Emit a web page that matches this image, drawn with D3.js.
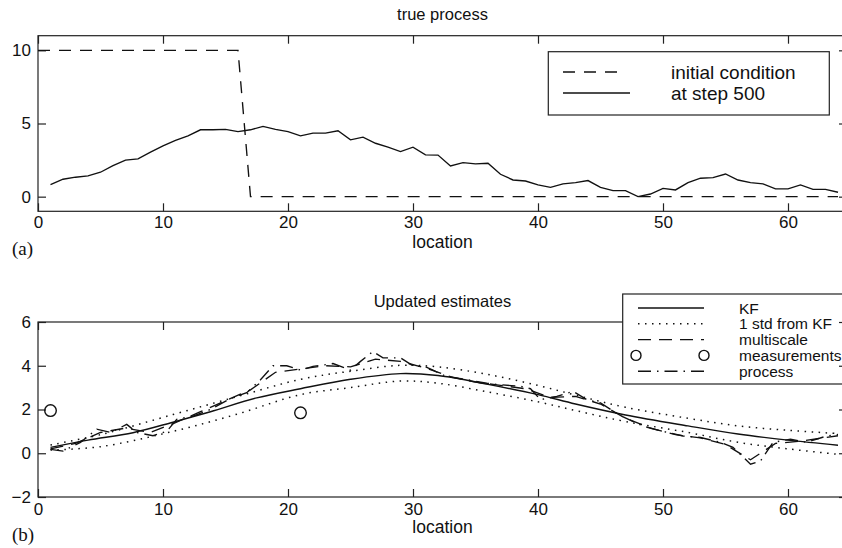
<!DOCTYPE html>
<html>
<head>
<meta charset="utf-8">
<script src="https://cdn.jsdelivr.net/npm/d3@7/dist/d3.min.js"></script>
<style>
  html, body { margin: 0; padding: 0; background: #fff; }
  svg { display: block; }
  text { font-family: "Liberation Sans", Arial, Helvetica, sans-serif; fill: #111; }
</style>
</head>
<body>
<svg id="chart" width="842" height="548"></svg>
<script>
// ---------- (a) true process ----------
const initLoc = [0, 16, 17, 64];
const initVal = [10, 10, 0, 0];

const stepLoc = d3.range(1, 65);
const stepVal = [
  0.82, 1.19, 1.33, 1.42, 1.67, 2.12, 2.50, 2.58, 3.04, 3.47,
  3.84, 4.16, 4.57, 4.57, 4.60, 4.45, 4.57, 4.80, 4.60, 4.45,
  4.16, 4.34, 4.34, 4.50, 3.88, 4.07, 3.65, 3.38, 3.08, 3.38,
  2.86, 2.84, 2.10, 2.33, 2.24, 2.28, 1.53, 1.14, 1.07, 0.80,
  0.64, 0.87, 0.96, 1.10, 0.64, 0.41, 0.41, 0.00, 0.18, 0.57,
  0.46, 0.96, 1.26, 1.30, 1.55, 1.14, 0.96, 0.87, 0.53, 0.53,
  0.80, 0.50, 0.50, 0.30
];

const topXTicks = [0, 10, 20, 30, 40, 50, 60];
const topYTicks = [0, 5, 10];
const topLegend = ["initial condition", "at step 500"];

// ---------- (b) updated estimates ----------
const kfLoc = [1, 4, 7.6, 10.8, 13.8, 17.5, 21, 25, 29, 32, 36, 40, 43, 47, 52, 56, 60, 64];
const kfVal = [0.27, 0.60, 0.94, 1.42, 1.90, 2.53, 2.95, 3.38, 3.64, 3.55, 3.15, 2.68, 2.25, 1.75, 1.25, 0.88, 0.60, 0.37];

const stdLoc   = [1, 5, 10.8, 16, 21, 25, 29, 32, 36, 40, 43.4, 47, 52, 56, 60, 64];
const stdUpper = [0.38, 0.85, 1.77, 2.60, 3.38, 3.75, 4.02, 3.95, 3.60, 3.10, 2.60, 2.10, 1.60, 1.25, 1.05, 0.90];
const stdLower = [0.15, 0.30, 1.00, 1.80, 2.68, 3.00, 3.30, 3.20, 2.80, 2.35, 1.90, 1.45, 0.95, 0.50, 0.20, -0.05];

const msLoc = [1, 3, 5, 7, 9, 11, 13, 15, 17, 19, 21, 23, 25, 27, 29, 31, 33, 35, 37, 39, 41, 43, 45, 47, 49, 51, 53, 55, 57, 59, 61, 64];
const msVal = [0.20, 0.45, 0.95, 1.15, 0.95, 1.40, 1.90, 2.40, 2.90, 3.70, 3.85, 4.00, 3.95, 4.30, 4.20, 3.90, 3.50, 3.25, 3.10, 2.95, 2.55, 2.60, 2.25, 1.60, 1.15, 0.85, 0.70, 0.40, -0.30, 0.45, 0.55, 0.80];

const measLoc = [1, 21];
const measVal = [1.95, 1.85];

const procLoc = [1, 2, 3.4, 4.7, 5.8, 7.1, 7.9, 9.2, 10.3, 11.1, 12.4, 13.8, 15.4, 16.7, 17.8, 18.8, 19.9, 21, 22, 23.6, 25, 25.8, 26.8, 27.6, 29, 30, 31, 31.6, 32.7, 34, 35.9, 37, 38.6, 39.4, 40.2, 41.5, 42.8, 43.9, 45, 46.5, 48.4, 50, 51.6, 53, 54.6, 55.6, 57, 57.8, 58.8, 60.2, 61.5, 63.1, 64];
const procVal = [0.18, 0.10, 0.50, 1.10, 0.95, 1.32, 0.95, 0.80, 1.00, 1.55, 1.70, 2.00, 2.50, 2.77, 3.36, 4.00, 4.00, 3.80, 3.97, 4.10, 3.80, 4.20, 4.65, 4.36, 4.36, 4.00, 3.95, 3.80, 3.50, 3.40, 3.20, 3.13, 3.06, 2.95, 2.45, 2.60, 2.83, 2.45, 2.30, 1.75, 1.24, 1.00, 0.79, 0.72, 0.50, 0.27, -0.50, -0.35, 0.50, 0.64, 0.50, 0.79, 0.86];

const botXTicks = [0, 10, 20, 30, 40, 50, 60];
const botYTicks = [-2, 0, 2, 4, 6];
const botLegend = ["KF", "1 std from KF", "multiscale", "measurements", "process"];

// ---------- drawing ----------
const svg = d3.select("#chart");
const INK = "#111";
const AX = "#222";
const LW = 1.35;
const L = 38, R = 847;

const x = d3.scaleLinear().domain([0, 64.72]).range([L, R]);

function pairs(xs, ys) { return xs.map((v, i) => [v, ys[i]]); }

function frame(g, y, top, bottom, xTicks, yTicks, fmtY, pad) {
  g.append("rect")
    .attr("x", L).attr("y", top).attr("width", R - L).attr("height", bottom - top)
    .attr("fill", "none").attr("stroke", AX).attr("stroke-width", 1.2);
  const bx = g.append("g").attr("transform", `translate(0,${bottom})`)
    .call(d3.axisBottom(x).tickValues(xTicks).tickSizeInner(-8).tickSizeOuter(0).tickPadding(pad));
  const tx = g.append("g").attr("transform", `translate(0,${top})`)
    .call(d3.axisTop(x).tickValues(xTicks).tickSizeInner(-8).tickSizeOuter(0).tickFormat(""));
  const ly = g.append("g").attr("transform", `translate(${L},0)`)
    .call(d3.axisLeft(y).tickValues(yTicks).tickSizeInner(-8).tickSizeOuter(0).tickPadding(7).tickFormat(fmtY));
  [bx, tx, ly].forEach(a => {
    a.select(".domain").remove();
    a.selectAll("line").attr("stroke", AX).attr("stroke-width", 1.2);
    a.selectAll("text").attr("font-size", 17).attr("fill", INK)
      .style("font-family", '"Liberation Sans", Arial, sans-serif');
  });
}

function rightTicks(g, y, yTicks) {
  const ry = g.append("g").attr("transform", `translate(${R},0)`)
    .call(d3.axisRight(y).tickValues(yTicks).tickSizeInner(-8).tickSizeOuter(0).tickFormat(""));
  ry.select(".domain").remove();
  ry.selectAll("line").attr("stroke", AX).attr("stroke-width", 1.2);
}

// ----- panel (a) -----
const aTop = 35.7, aBot = 211.3;
const ya = d3.scaleLinear().domain([-1, 11]).range([aBot, aTop]);
const ga = svg.append("g");
frame(ga, ya, aTop, aBot, topXTicks, topYTicks, d3.format("d"), 5);

const lineA = d3.line().x(d => x(d[0])).y(d => ya(d[1]));
ga.append("path").datum(pairs(initLoc, initVal)).attr("d", lineA)
  .attr("fill", "none").attr("stroke", INK).attr("stroke-width", LW)
  .attr("stroke-dasharray", "12,9");
ga.append("path").datum(pairs(stepLoc, stepVal)).attr("d", lineA)
  .attr("fill", "none").attr("stroke", INK).attr("stroke-width", LW);

ga.append("text").attr("x", (L + R) / 2).attr("y", 20).attr("text-anchor", "middle")
  .attr("font-size", 16.5).text("true process");
ga.append("text").attr("x", (L + R) / 2).attr("y", 248).attr("text-anchor", "middle")
  .attr("font-size", 17.5).text("location");
ga.append("text").attr("x", 12).attr("y", 255).attr("font-size", 19)
  .style("font-family", '"Liberation Serif", "Times New Roman", serif').text("(a)");

// legend (a)
const lgA = ga.append("g");
lgA.append("rect").attr("x", 548.3).attr("y", 51.7).attr("width", 281).attr("height", 63.3)
  .attr("fill", "#fff").attr("stroke", AX).attr("stroke-width", 1.2);
const lgAStyles = ["12,9", null];
topLegend.forEach((t, i) => {
  const yy = 72 + i * 21;
  const ln = lgA.append("line").attr("x1", 563).attr("x2", i === 0 ? 622 : 630)
    .attr("y1", yy).attr("y2", yy).attr("stroke", INK).attr("stroke-width", LW);
  if (lgAStyles[i]) ln.attr("stroke-dasharray", lgAStyles[i]);
  lgA.append("text").attr("x", 671).attr("y", yy + 7).attr("font-size", 19).text(t);
});
rightTicks(ga, ya, topYTicks);

// ----- panel (b) -----
const bTop = 322, bBot = 497;
const yb = d3.scaleLinear().domain([-2, 6]).range([bBot, bTop]);
const gb = svg.append("g");
frame(gb, yb, bTop, bBot, botXTicks, botYTicks, d => d < 0 ? "\u2212" + Math.abs(d) : String(d), 6);

const lineB = d3.line().x(d => x(d[0])).y(d => yb(d[1]));
const smoothB = d3.line().x(d => x(d[0])).y(d => yb(d[1])).curve(d3.curveCatmullRom.alpha(0.5));

const DOT = "1.5,5.5", DASH = "13,8", DASHDOT = "13,6,1.5,6";

gb.append("path").datum(pairs(stdLoc, stdUpper)).attr("d", smoothB)
  .attr("fill", "none").attr("stroke", INK).attr("stroke-width", 1.5).attr("stroke-dasharray", DOT);
gb.append("path").datum(pairs(stdLoc, stdLower)).attr("d", smoothB)
  .attr("fill", "none").attr("stroke", INK).attr("stroke-width", 1.5).attr("stroke-dasharray", DOT);
gb.append("path").datum(pairs(kfLoc, kfVal)).attr("d", smoothB)
  .attr("fill", "none").attr("stroke", INK).attr("stroke-width", 1.45);
gb.append("path").datum(pairs(msLoc, msVal)).attr("d", lineB)
  .attr("fill", "none").attr("stroke", INK).attr("stroke-width", LW).attr("stroke-dasharray", DASH);
gb.append("path").datum(pairs(procLoc, procVal)).attr("d", lineB)
  .attr("fill", "none").attr("stroke", INK).attr("stroke-width", LW).attr("stroke-dasharray", DASHDOT);
gb.selectAll("circle.meas").data(pairs(measLoc, measVal)).join("circle")
  .attr("class", "meas").attr("cx", d => x(d[0])).attr("cy", d => yb(d[1])).attr("r", 5.8)
  .attr("fill", "none").attr("stroke", INK).attr("stroke-width", 1.4);

gb.append("text").attr("x", (L + R) / 2).attr("y", 307).attr("text-anchor", "middle")
  .attr("font-size", 16.5).text("Updated estimates");
gb.append("text").attr("x", (L + R) / 2).attr("y", 533).attr("text-anchor", "middle")
  .attr("font-size", 17.5).text("location");
gb.append("text").attr("x", 12).attr("y", 541).attr("font-size", 19)
  .style("font-family", '"Liberation Serif", "Times New Roman", serif').text("(b)");

// legend (b)
const lgB = gb.append("g");
lgB.append("rect").attr("x", 622.7).attr("y", 294).attr("width", 240).attr("height", 90)
  .attr("fill", "#fff").attr("stroke", AX).attr("stroke-width", 1.2);
const lgBStyles = [null, DOT, DASH, "circle", DASHDOT];
botLegend.forEach((t, i) => {
  const yy = 308 + i * 15.8;
  const s = lgBStyles[i];
  if (s === "circle") {
    [636, 704].forEach(cx => lgB.append("circle").attr("cx", cx).attr("cy", yy).attr("r", 5)
      .attr("fill", "none").attr("stroke", INK).attr("stroke-width", 1.4));
  } else {
    const ln = lgB.append("line").attr("x1", 638).attr("x2", 704).attr("y1", yy).attr("y2", yy)
      .attr("stroke", INK).attr("stroke-width", s === DOT ? 1.5 : LW);
    if (s) ln.attr("stroke-dasharray", s);
  }
  lgB.append("text").attr("x", 739).attr("y", yy + 5.5).attr("font-size", 15.5).text(t);
});
rightTicks(gb, yb, botYTicks);
</script>
</body>
</html>
